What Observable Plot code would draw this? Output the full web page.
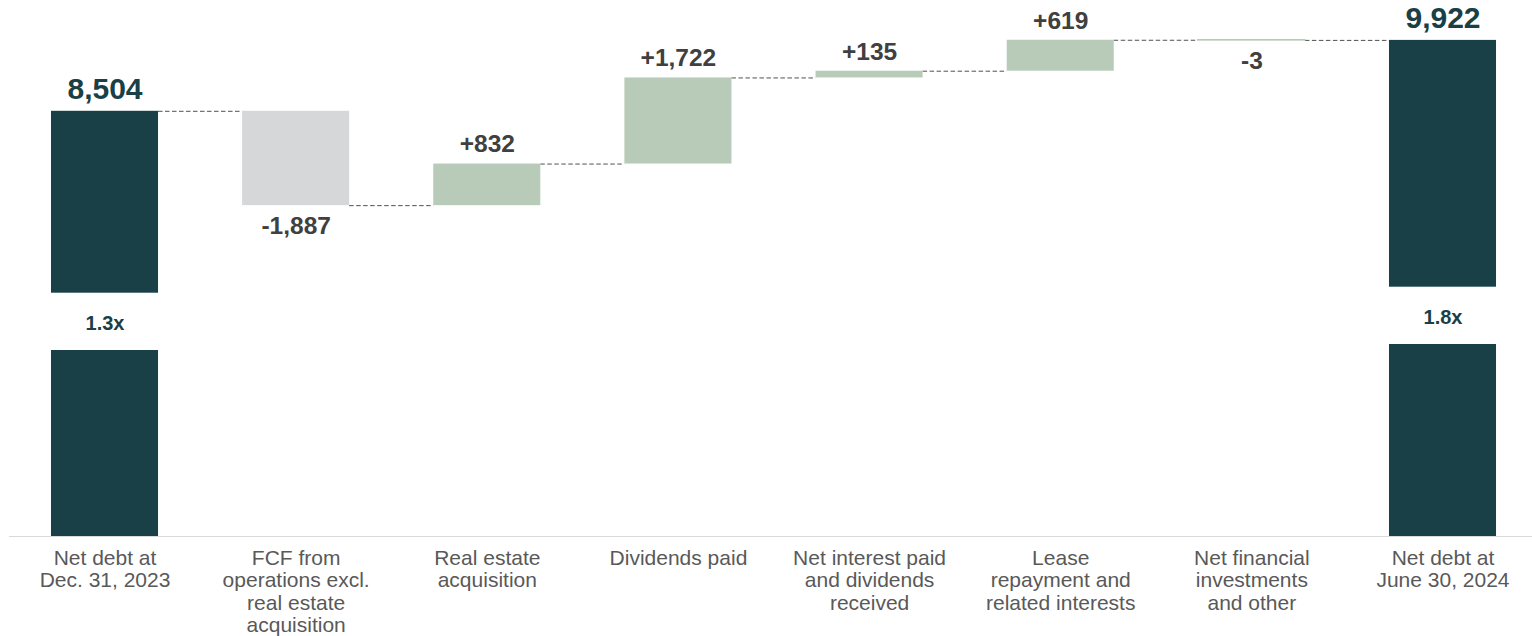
<!DOCTYPE html>
<html>
<head>
<meta charset="utf-8">
<script src="https://cdn.jsdelivr.net/npm/d3@7"></script>
<script src="https://cdn.jsdelivr.net/npm/@observablehq/plot@0.6"></script>
<style>
  html, body { margin: 0; padding: 0; background: #ffffff; }
  #chart svg { display: block; }
</style>
</head>
<body>
<div id="chart"></div>
<script>
// ---- Data ----
const categories = [
  "Net debt at\nDec. 31, 2023",
  "FCF from\noperations excl.\nreal estate\nacquisition",
  "Real estate\nacquisition",
  "Dividends paid",
  "Net interest paid\nand dividends\nreceived",
  "Lease\nrepayment and\nrelated interests",
  "Net financial\ninvestments\nand other",
  "Net debt at\nJune 30, 2024"
];
const values = [8504, -1887, 832, 1722, 135, 619, -3, 9922];
const kinds = ["total", "fcf", "flow", "flow", "flow", "flow", "flow", "total"];
const valueLabels = ["8,504", "-1,887", "+832", "+1,722", "+135", "+619", "-3", "9,922"];
const ratioLabels = ["1.3x", null, null, null, null, null, null, "1.8x"];
const gapLow = [3720, null, null, null, null, null, null, 3840];
const gapHigh = [4866, null, null, null, null, null, null, 4986];

// ---- Style ----
const TEAL = "#184046";
const GREEN = "#b8cbb8";
const GREY = "#d6d7d9";
const colorOf = {total: TEAL, fcf: GREY, flow: GREEN};
const HW = 0.28; // bar half-width in category index units
const FONT = "'Liberation Sans', Arial, Helvetica, sans-serif";

// ---- Derived rows ----
let running = 0;
const rows = categories.map((name, i) => {
  const kind = kinds[i];
  let start, end;
  if (kind === "total") { start = 0; end = values[i]; running = values[i]; }
  else { start = running; end = running + values[i]; running = end; }
  return {i, name, kind, value: values[i], start, end,
          lo: Math.min(start, end), hi: Math.max(start, end),
          label: valueLabels[i], color: colorOf[kind]};
});
const connectors = rows.slice(0, -1).map((d, k) => ({x1: d.i + HW, x2: rows[k + 1].i - HW, y: d.end}));
const gaps = rows.filter(d => ratioLabels[d.i]).map(d => ({
  i: d.i, low: gapLow[d.i], high: gapHigh[d.i], text: ratioLabels[d.i]
}));

const chart = Plot.plot({
  width: 1532,
  height: 636,
  marginLeft: 9,
  marginRight: 0,
  marginTop: 36,
  marginBottom: 100,
  style: {fontFamily: FONT, background: "#ffffff", overflow: "visible"},
  x: {domain: [0, 7], range: [104.5, 1442.5], axis: null},
  y: {domain: [0, 10000], axis: null},
  marks: [
    Plot.ruleY([0], {stroke: "#d9d9d9", strokeWidth: 1.2}),
    Plot.ruleY(connectors, {x1: "x1", x2: "x2", y: "y", stroke: "#505050", strokeWidth: 1, strokeDasharray: "4.5,2.5"}),
    Plot.rect(rows, {x1: d => d.i - HW, x2: d => d.i + HW, y1: "lo", y2: "hi", fill: "color"}),
    Plot.rect(rows.filter(d => d.hi - d.lo < 20), {x1: d => d.i - HW, x2: d => d.i + HW, y1: "lo", y2: "hi", fill: "color", stroke: "color", strokeWidth: 1.5}),
    Plot.rect(gaps, {x1: d => d.i - HW - 0.01, x2: d => d.i + HW + 0.01, y1: "low", y2: "high", fill: "#ffffff"}),
    Plot.text(gaps, {x: "i", y: d => (d.low + d.high) / 2, text: "text", dy: 2, fontSize: 20, fontWeight: "bold", fill: TEAL, fontFamily: FONT}),
    Plot.text(rows.filter(d => d.kind === "total"), {x: "i", y: "end", text: "label", dy: -22, fontSize: 30, fontWeight: "bold", fill: TEAL, fontFamily: FONT}),
    Plot.text(rows.filter(d => d.kind !== "total" && d.value >= 0), {x: "i", y: "hi", text: "label", dy: -19.5, fontSize: 24.5, fontWeight: "bold", fill: "#404040", fontFamily: FONT}),
    Plot.text(rows.filter(d => d.kind !== "total" && d.value < 0), {x: "i", y: "lo", text: "label", dy: 21, fontSize: 24.5, fontWeight: "bold", fill: "#404040", fontFamily: FONT}),
    Plot.text(rows, {x: "i", y: 0, text: "name", lineAnchor: "top", dy: 12.5, fontSize: 21, lineHeight: 1.067, fill: "#595959", fontFamily: FONT})
  ]
});
document.getElementById("chart").appendChild(chart);
</script>
</body>
</html>
